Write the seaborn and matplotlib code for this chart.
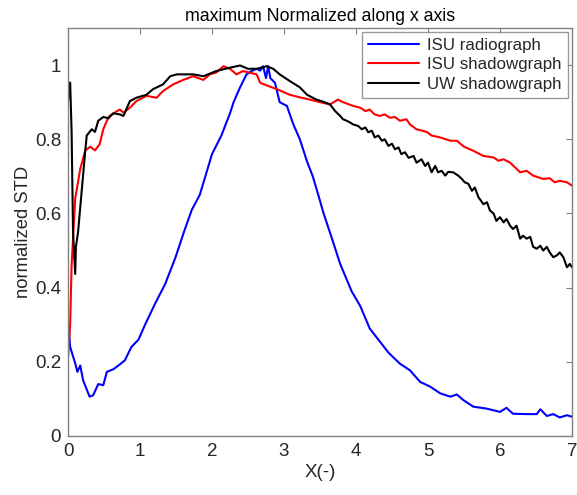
import matplotlib
matplotlib.use("Agg")
import matplotlib.pyplot as plt
import seaborn as sns
import pandas as pd

# ISU radiograph
radio_x = [0.0, 0.03, 0.1, 0.13, 0.17, 0.21, 0.30, 0.35, 0.42, 0.49, 0.54, 0.63, 0.70, 0.79,
           0.88, 0.98, 1.07, 1.21, 1.35, 1.49, 1.61, 1.72, 1.83, 2.0, 2.13, 2.25, 2.30, 2.39,
           2.48, 2.55, 2.62, 2.67, 2.71, 2.75, 2.78, 2.81, 2.875, 2.94, 3.04, 3.13, 3.22, 3.32,
           3.40, 3.5, 3.55, 3.66, 3.78, 3.94, 4.06, 4.19, 4.31, 4.45, 4.61, 4.75, 4.89, 5.03,
           5.17, 5.31, 5.40, 5.49, 5.63, 5.81, 6.0, 6.09, 6.18, 6.37, 6.51, 6.56, 6.65, 6.74,
           6.83, 6.93, 7.0]
radio_y = [0.31, 0.24, 0.196, 0.173, 0.19, 0.15, 0.106, 0.11, 0.14, 0.137, 0.173, 0.18, 0.19,
           0.204, 0.24, 0.26, 0.30, 0.357, 0.41, 0.48, 0.55, 0.61, 0.65, 0.76, 0.81, 0.87, 0.90,
           0.94, 0.975, 0.984, 0.99, 0.985, 0.997, 0.965, 0.997, 0.965, 0.952, 0.90, 0.89, 0.84,
           0.80, 0.74, 0.70, 0.634, 0.60, 0.536, 0.464, 0.39, 0.35, 0.29, 0.26, 0.225, 0.195,
           0.177, 0.146, 0.133, 0.115, 0.106, 0.112, 0.097, 0.079, 0.074, 0.065, 0.076, 0.06,
           0.059, 0.059, 0.072, 0.054, 0.059, 0.05, 0.056, 0.052]

# ISU shadowgraph
isu_x = [0.0, 0.03, 0.05, 0.1, 0.17, 0.24, 0.31, 0.375, 0.44, 0.49, 0.54, 0.58, 0.68, 0.72,
         0.77, 0.86, 0.95, 1.09, 1.23, 1.32, 1.46, 1.60, 1.74, 1.88, 1.97, 2.06, 2.16, 2.25,
         2.34, 2.43, 2.62, 2.67, 2.90, 3.08, 3.22, 3.36, 3.5, 3.64, 3.75, 3.82, 3.96, 4.06,
         4.13, 4.19, 4.26, 4.33, 4.40, 4.47, 4.54, 4.61, 4.70, 4.75, 4.84, 4.98, 5.05, 5.17,
         5.31, 5.40, 5.50, 5.63, 5.77, 5.91, 5.98, 6.05, 6.14, 6.28, 6.37, 6.46, 6.60, 6.69,
         6.76, 6.83, 6.93, 7.0]
isu_y = [0.209, 0.30, 0.46, 0.64, 0.72, 0.77, 0.78, 0.77, 0.787, 0.827, 0.85, 0.863, 0.876,
         0.88, 0.872, 0.885, 0.903, 0.917, 0.912, 0.93, 0.948, 0.96, 0.97, 0.96, 0.975, 0.98,
         0.997, 0.99, 0.975, 0.984, 0.975, 0.952, 0.935, 0.92, 0.913, 0.907, 0.90, 0.894, 0.907,
         0.90, 0.89, 0.885, 0.876, 0.88, 0.867, 0.863, 0.867, 0.858, 0.86, 0.85, 0.854, 0.84,
         0.827, 0.82, 0.81, 0.805, 0.796, 0.796, 0.78, 0.769, 0.755, 0.751, 0.742, 0.746,
         0.737, 0.711, 0.715, 0.702, 0.693, 0.695, 0.684, 0.688, 0.684, 0.675]

# UW shadowgraph
uw_x = [0.0, 0.03, 0.05, 0.07, 0.1, 0.11, 0.14, 0.19, 0.24, 0.26, 0.33, 0.375, 0.42, 0.49,
        0.56, 0.63, 0.72, 0.77, 0.86, 0.95, 1.09, 1.18, 1.32, 1.42, 1.51, 1.74, 1.88, 2.06,
        2.25, 2.39, 2.5, 2.62, 2.76, 2.85, 2.94, 3.08, 3.22, 3.32, 3.45, 3.52, 3.64, 3.71,
        3.78, 3.82, 3.87, 3.92, 3.96, 4.03, 4.08, 4.13, 4.17, 4.22, 4.26, 4.31, 4.36, 4.40,
        4.45, 4.50, 4.54, 4.59, 4.63, 4.68, 4.73, 4.80, 4.84, 4.91, 4.96, 5.0, 5.05, 5.10,
        5.14, 5.19, 5.24, 5.28, 5.35, 5.42, 5.47, 5.51, 5.56, 5.61, 5.65, 5.70, 5.77, 5.82,
        5.86, 5.91, 5.95, 6.0, 6.05, 6.09, 6.14, 6.18, 6.23, 6.28, 6.32, 6.37, 6.42, 6.46,
        6.51, 6.56, 6.60, 6.65, 6.69, 6.74, 6.79, 6.83, 6.88, 6.93, 6.97, 7.0]
uw_y = [0.903, 0.953, 0.82, 0.55, 0.437, 0.51, 0.55, 0.66, 0.77, 0.81, 0.827, 0.82, 0.85,
        0.86, 0.857, 0.87, 0.867, 0.863, 0.903, 0.912, 0.92, 0.935, 0.948, 0.97, 0.975, 0.975,
        0.97, 0.984, 0.993, 0.999, 0.99, 0.99, 0.997, 0.99, 0.975, 0.957, 0.94, 0.92, 0.907,
        0.903, 0.894, 0.876, 0.863, 0.854, 0.85, 0.845, 0.84, 0.836, 0.827, 0.832, 0.819,
        0.823, 0.805, 0.81, 0.796, 0.80, 0.782, 0.788, 0.773, 0.778, 0.76, 0.765, 0.75, 0.755,
        0.737, 0.746, 0.728, 0.737, 0.711, 0.728, 0.711, 0.715, 0.702, 0.712, 0.711, 0.702,
        0.693, 0.684, 0.68, 0.661, 0.67, 0.644, 0.625, 0.63, 0.608, 0.60, 0.58, 0.59, 0.576,
        0.585, 0.567, 0.558, 0.567, 0.532, 0.54, 0.532, 0.537, 0.51, 0.505, 0.513, 0.50, 0.51,
        0.495, 0.482, 0.487, 0.495, 0.482, 0.455, 0.464, 0.455]

series_names = ["ISU radiograph", "ISU shadowgraph", "UW shadowgraph"]
x_ticks = [0, 1, 2, 3, 4, 5, 6, 7]
y_ticks = [0, 0.2, 0.4, 0.6, 0.8, 1.0]
y_tick_labels = ["0", "0.2", "0.4", "0.6", "0.8", "1"]

frames = []
for name, xs, ys in zip(series_names, [radio_x, isu_x, uw_x], [radio_y, isu_y, uw_y]):
    frames.append(pd.DataFrame({"x": xs, "y": ys, "series": name}))
df = pd.concat(frames, ignore_index=True)

sns.set_style("white")
plt.rcParams["font.family"] = ["Liberation Sans", "DejaVu Sans"]
text_c = "#262626"
spine_c = "#808080"
colors = ["#0000ff", "#ff0000", "#000000"]

fig = plt.figure(figsize=(5.77, 4.95), dpi=100)
ax = fig.add_axes([68 / 577, 59 / 495, 504 / 577, 408 / 495])

sns.lineplot(data=df, x="x", y="y", hue="series", hue_order=series_names,
             palette=colors, sort=False, estimator=None, linewidth=1.5,
             ax=ax, legend=False)
for name, c in zip(series_names, colors):
    ax.plot([], [], color=c, linewidth=1.5, label=name)

ax.set_xlim(0, 7)
ax.set_ylim(0, 1.1)
ax.set_xticks(x_ticks)
ax.set_xticklabels([str(t) for t in x_ticks])
ax.set_yticks(y_ticks)
ax.set_yticklabels(y_tick_labels)
ax.tick_params(direction="in", top=True, right=True, length=4, width=0.8,
               color=spine_c, labelsize=13.5, labelcolor=text_c, pad=5)
for s in ax.spines.values():
    s.set_visible(True)
    s.set_color(spine_c)
    s.set_linewidth(1.0)

ax.set_xlabel("X(-)", fontsize=13.5, color=text_c, labelpad=3)
ax.set_ylabel("normalized STD", fontsize=13.3, color=text_c, labelpad=2)
ax.set_title("maximum Normalized along x axis", fontsize=12.8, color="#000000", pad=5)

leg = ax.legend(loc="upper right", fontsize=12.2, frameon=True, fancybox=False,
                edgecolor=spine_c, handlelength=3.0, borderaxespad=0.25,
                labelspacing=0.25, handletextpad=0.5, borderpad=0.35)
leg.get_frame().set_linewidth(1.0)
for t in leg.get_texts():
    t.set_color(text_c)

fig.savefig("out.png", dpi=100)
